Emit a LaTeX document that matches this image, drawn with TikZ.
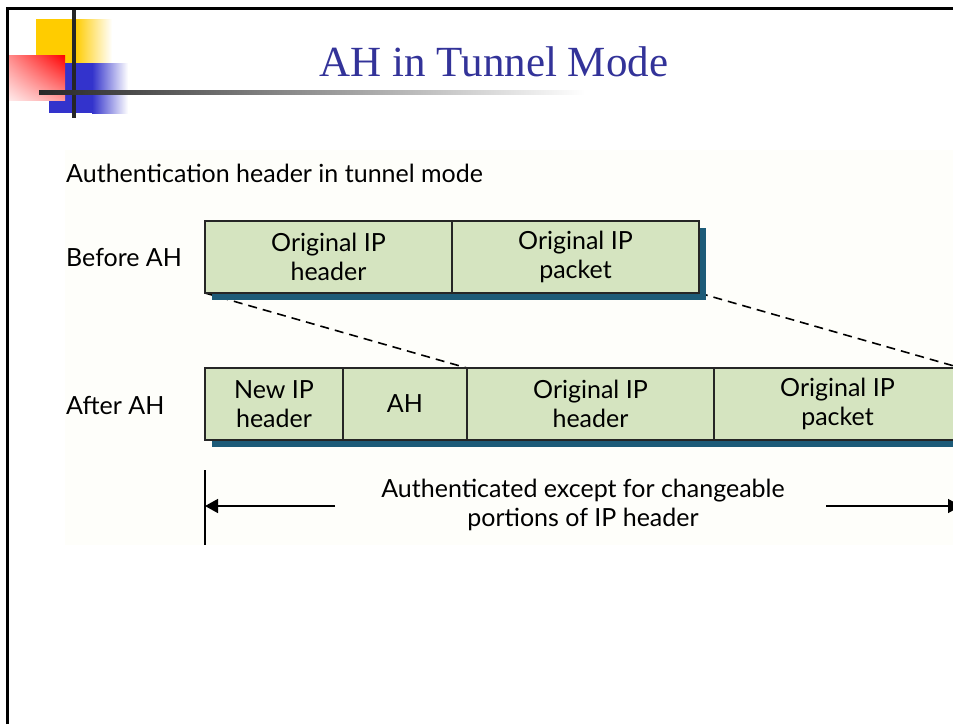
\documentclass[tikz,border=0pt]{standalone}
\usepackage{fontspec}
\setmainfont{Liberation Serif}
\newfontfamily\figfont{Lato}
\usetikzlibrary{positioning,shadows,shadings,arrows.meta}
\definecolor{titleblue}{HTML}{333399}
\definecolor{boxgreen}{HTML}{D5E4C0}
\definecolor{shadowteal}{HTML}{1D5B78}
\definecolor{slideyellow}{HTML}{FFCC00}
\definecolor{slideblue}{HTML}{3333CC}
\definecolor{figback}{HTML}{FEFEFA}
\tikzset{
  pkt/.style={draw=black!85, fill=boxgreen, line width=1.2pt, outer sep=0pt,
    inner sep=0pt, minimum height=72pt, align=center,
    font=\figfont\fontsize{25}{29}\selectfont,
    drop shadow={shadow xshift=7pt, shadow yshift=-7pt, fill=shadowteal, opacity=1}},
  lbl/.style={anchor=west, inner sep=0pt, font=\figfont\fontsize{25}{29}\selectfont},
  authar/.style={line width=1.5pt, -{Triangle[length=13pt,width=14pt]}}
}
\begin{document}
\begin{tikzpicture}[x=1pt,y=-1pt]
\useasboundingbox (0,0) rectangle (953,724);
\clip (0,0) rectangle (953,724);
% slide decoration
\fill[slideyellow] (36,19) rectangle (75,63);
\shade[left color=slideyellow, right color=white] (75,19) rectangle (112,63);
\fill[slideblue] (49,63) rectangle (92,113);
\shade[left color=slideblue, right color=white] (92,63) rectangle (128,113);
\shade[upper right=red, upper left=red!45, lower right=red!40, lower left=red!8] (8,55) rectangle (65,100);
\fill[black!85] (72,7) rectangle (76,118);
\shade[left color=black!85, right color=white] (39,90) rectangle (585,94);
\draw[line width=3pt] (7.5,724) -- (7.5,8.5) -- (953,8.5);
\node[font=\fontsize{43}{46}\selectfont, text=titleblue] (title) at (494,62) {AH in Tunnel Mode};
% figure
\fill[figback] (65,150) rectangle (953,545);
\node[lbl] (caption) at (66,173) {Authentication header in tunnel mode};
\node[lbl] (before) at (66,257) {Before AH};
\node[lbl] (after) at (66,406) {After AH};
% dashed guides
\coordinate (guide1) at (205,293);
\coordinate (guide2) at (467,368);
\coordinate (guide3) at (699,293);
\coordinate (guide4) at (961,368);
\draw[line width=1.6pt, dash pattern=on 9pt off 6pt] (guide1) -- (guide2);
\draw[line width=1.6pt, dash pattern=on 9pt off 6pt] (guide3) -- (guide4);
% before AH
\node[pkt, minimum width=247pt, anchor=north west] (oldhdr) at (205,221) {Original IP\\header};
\node[pkt, minimum width=247pt, right=0pt of oldhdr] (oldpkt) {Original IP\\packet};
% after AH
\node[pkt, minimum width=138pt, anchor=north west] (newhdr) at (205,368) {New IP\\header};
\node[pkt, minimum width=124pt, right=0pt of newhdr] (ah) {AH};
\node[pkt, minimum width=247pt, right=0pt of ah] (innerhdr) {Original IP\\header};
\node[pkt, minimum width=247pt, right=0pt of innerhdr] (innerpkt) {Original IP\\packet};
% authenticated span
\node[font=\figfont\fontsize{25}{29}\selectfont, align=center] (authtext) at (583,505) {Authenticated except for changeable\\portions of IP header};
\coordinate (lbar) at (205,506);
\coordinate (rbar) at (961,506);
\coordinate (ltail) at (335,506);
\coordinate (rtail) at (826,506);
\draw[line width=1.5pt] ([yshift=36pt]lbar) -- ([yshift=-39pt]lbar);
\draw[authar] (ltail) -- (lbar);
\draw[authar] (rtail) -- (rbar);
\end{tikzpicture}
\end{document}
